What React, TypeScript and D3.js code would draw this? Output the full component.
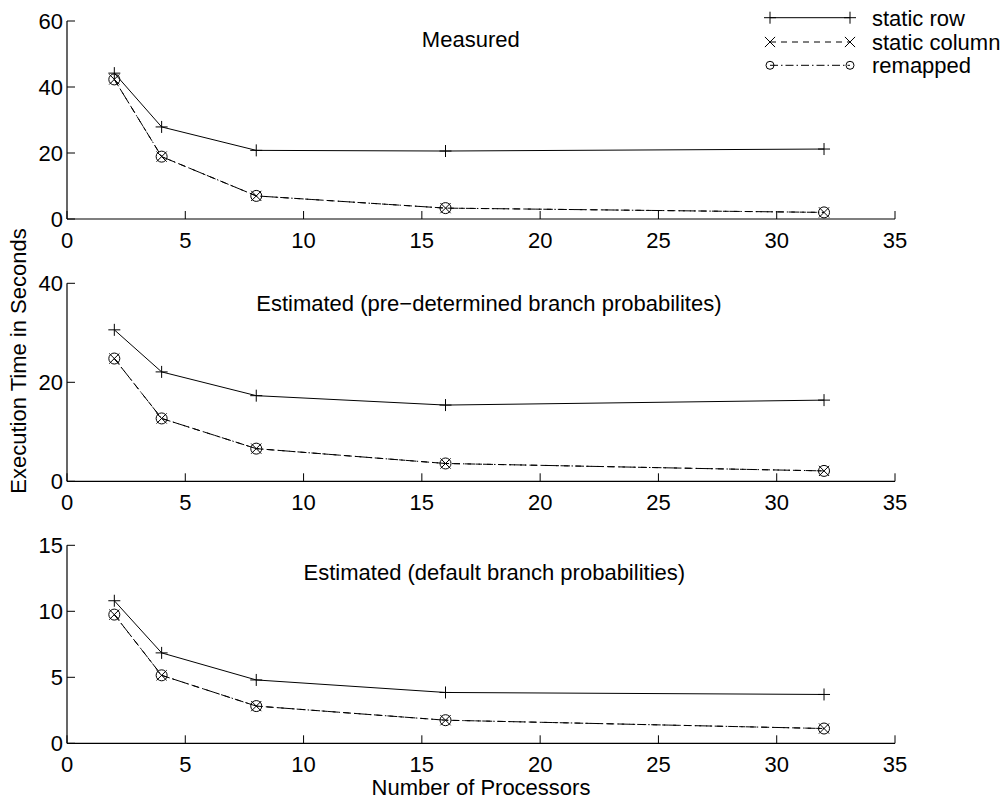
import React, { useEffect, useRef } from 'react';
import * as d3 from 'd3';

// number of processors (x axis)
const processors = [2, 4, 8, 16, 32];

// panel 1: measured
const measuredRow = [44.2, 27.9, 20.8, 20.6, 21.2];
const measuredCol = [42.3, 18.9, 7.0, 3.3, 2.0];
const measuredRemap = [42.3, 18.9, 7.0, 3.3, 2.0];

// panel 2: estimated, pre-determined branch probabilities
const preRow = [30.6, 22.1, 17.3, 15.4, 16.4];
const preCol = [24.8, 12.7, 6.6, 3.6, 2.1];
const preRemap = [24.8, 12.7, 6.6, 3.6, 2.1];

// panel 3: estimated, default branch probabilities
const defRow = [10.8, 6.85, 4.8, 3.85, 3.7];
const defCol = [9.75, 5.15, 2.82, 1.75, 1.12];
const defRemap = [9.75, 5.15, 2.82, 1.75, 1.12];

const xTicks = [0, 5, 10, 15, 20, 25, 30, 35];
const yTicks1 = [0, 20, 40, 60];
const yTicks2 = [0, 20, 40];
const yTicks3 = [0, 5, 10, 15];

const titles = [
  'Measured',
  'Estimated (pre\u2212determined branch probabilites)',
  'Estimated (default branch probabilities)',
];
// title anchors in data coordinates [x, y]
const titlePos = [[15, 54.5], [8, 36], [10, 13]];

const seriesNames = ['static row', 'static column', 'remapped'];

const App = () => {
  const svgRef = useRef(null);

  useEffect(() => {
    const svg = d3.select(svgRef.current);
    svg.selectAll('*').remove();

    const font = '"Liberation Sans", Arial, Helvetica, sans-serif';
    const fs = 22;
    const left = 67;
    const right = 895;
    const panelH = 198;
    const tops = [21, 283.3, 545.3];
    const tickLen = 8;

    const panels = [
      { ymax: 60, ticks: yTicks1, data: [measuredRow, measuredCol, measuredRemap] },
      { ymax: 40, ticks: yTicks2, data: [preRow, preCol, preRemap] },
      { ymax: 15, ticks: yTicks3, data: [defRow, defCol, defRemap] },
    ];

    const x = d3.scaleLinear().domain([0, 35]).range([left, right]);

    const styles = [
      { dash: null, marker: 'plus' },
      { dash: '6,5', marker: 'x' },
      { dash: '8,3,1.5,3', marker: 'o' },
    ];

    const drawMarker = (g, type, cx, cy, s) => {
      if (type === 'plus') {
        g.append('path')
          .attr('d', `M${cx - s},${cy}H${cx + s}M${cx},${cy - s}V${cy + s}`)
          .attr('stroke', '#000').attr('stroke-width', 1).attr('fill', 'none');
      } else if (type === 'x') {
        const k = s * 0.85;
        g.append('path')
          .attr('d', `M${cx - k},${cy - k}L${cx + k},${cy + k}M${cx - k},${cy + k}L${cx + k},${cy - k}`)
          .attr('stroke', '#000').attr('stroke-width', 1).attr('fill', 'none');
      } else {
        g.append('circle')
          .attr('cx', cx).attr('cy', cy).attr('r', s)
          .attr('stroke', '#000').attr('stroke-width', 1).attr('fill', 'none');
      }
    };

    panels.forEach((p, i) => {
      const top = tops[i];
      const bottom = top + panelH;
      const y = d3.scaleLinear().domain([0, p.ymax]).range([bottom, top]);
      const g = svg.append('g');

      // axes lines
      g.append('line')
        .attr('x1', left).attr('x2', right).attr('y1', bottom).attr('y2', bottom)
        .attr('stroke', '#000').attr('stroke-width', 1.2);
      g.append('line')
        .attr('x1', left).attr('x2', left).attr('y1', top).attr('y2', bottom)
        .attr('stroke', '#000').attr('stroke-width', 1.2);

      // x ticks (inward)
      xTicks.forEach(t => {
        g.append('line')
          .attr('x1', x(t)).attr('x2', x(t)).attr('y1', bottom).attr('y2', bottom - tickLen)
          .attr('stroke', '#000').attr('stroke-width', 1);
        g.append('text')
          .attr('x', x(t)).attr('y', bottom + 28.5)
          .attr('text-anchor', 'middle')
          .attr('font-family', font).attr('font-size', fs)
          .text(t);
      });

      // y ticks (inward)
      p.ticks.forEach(t => {
        g.append('line')
          .attr('x1', left).attr('x2', left + tickLen).attr('y1', y(t)).attr('y2', y(t))
          .attr('stroke', '#000').attr('stroke-width', 1);
        g.append('text')
          .attr('x', left - 4).attr('y', y(t))
          .attr('dy', '0.36em')
          .attr('text-anchor', 'end')
          .attr('font-family', font).attr('font-size', fs)
          .text(t);
      });

      // title
      g.append('text')
        .attr('x', x(titlePos[i][0])).attr('y', y(titlePos[i][1]))
        .attr('dy', '0.36em')
        .attr('font-family', font).attr('font-size', fs)
        .text(titles[i]);

      // series
      p.data.forEach((vals, si) => {
        const line = d3.line()
          .x((d, j) => x(processors[j]))
          .y(d => y(d));
        const path = g.append('path')
          .attr('d', line(vals))
          .attr('fill', 'none')
          .attr('stroke', '#000')
          .attr('stroke-width', 1);
        if (styles[si].dash) path.attr('stroke-dasharray', styles[si].dash);
        vals.forEach((v, j) => {
          drawMarker(g, styles[si].marker, x(processors[j]), y(v), styles[si].marker === 'o' ? 5.5 : 6);
        });
      });
    });

    // legend
    const legendY = [17.7, 42, 65.3];
    const lg = svg.append('g');
    seriesNames.forEach((name, i) => {
      const ly = legendY[i];
      const ln = lg.append('line')
        .attr('x1', 770).attr('x2', 850).attr('y1', ly).attr('y2', ly)
        .attr('stroke', '#000').attr('stroke-width', 1);
      if (styles[i].dash) ln.attr('stroke-dasharray', styles[i].dash);
      drawMarker(lg, styles[i].marker, 770, ly, styles[i].marker === 'o' ? 4 : 6);
      drawMarker(lg, styles[i].marker, 850, ly, styles[i].marker === 'o' ? 4 : 6);
      lg.append('text')
        .attr('x', 872).attr('y', ly)
        .attr('dy', '0.36em')
        .attr('font-family', font).attr('font-size', fs)
        .text(name);
    });

    // axis labels
    svg.append('text')
      .attr('x', 481).attr('y', 795)
      .attr('text-anchor', 'middle')
      .attr('font-family', font).attr('font-size', fs)
      .text('Number of Processors');

    svg.append('text')
      .attr('transform', 'translate(26,361) rotate(-90)')
      .attr('text-anchor', 'middle')
      .attr('font-family', font).attr('font-size', fs)
      .text('Execution Time in Seconds');
  }, []);

  return (
    <svg
      ref={svgRef}
      width="1004"
      height="802"
      style={{ position: 'absolute', left: 0, top: 0, background: '#fff' }}
    ></svg>
  );
};

export default App;
